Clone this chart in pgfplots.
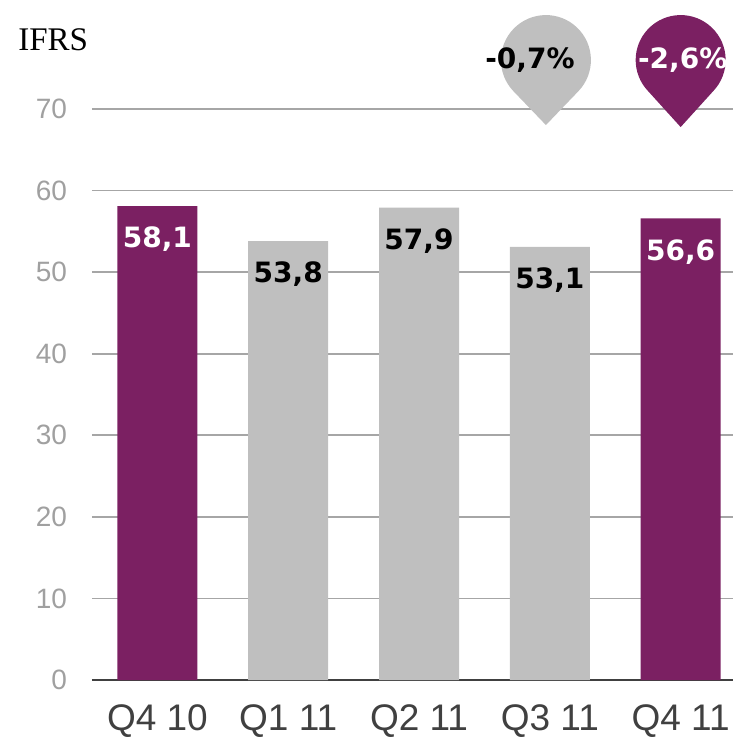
\documentclass[border=0pt]{standalone}
\usepackage{fontspec}
\setmainfont{Liberation Sans}
\newfontfamily\seriffont{Liberation Serif}
\newfontfamily\labfont{DejaVu Sans}
\usepackage{pgfplots}
\pgfplotsset{compat=1.18}
\definecolor{plum}{HTML}{7B2062}
\definecolor{barg}{HTML}{BFBFBF}
\definecolor{gridg}{HTML}{A6A6A6}
\definecolor{tickg}{HTML}{A0A0A0}
\definecolor{labg}{HTML}{404040}

\begin{document}
\begin{tikzpicture}
\path[use as bounding box] (-46pt,-32.5pt) rectangle (320.5pt,340pt);
\begin{axis}[
    scale only axis, width=320.5pt, height=285.5pt,
    xmin=-0.5, xmax=4.4, ymin=0, ymax=70,
    ytick={0,10,...,70}, xtick={0,1,2,3,4},
    xticklabels={Q4 10,Q1 11,Q2 11,Q3 11,Q4 11},
    axis line style={draw=none}, major tick length=0pt,
    ymajorgrids, grid style={gridg, line width=0.8pt},
    extra y ticks={0}, extra y tick labels={},
    extra y tick style={grid style={labg, line width=1.1pt}},
    /pgf/number format/assume math mode=true,
    /pgf/number format/use comma, /pgf/number format/fixed,
    /pgf/number format/fixed zerofill, /pgf/number format/precision=1,
    yticklabel style={font=\fontsize{14}{16}\selectfont, text=tickg, xshift=-9pt,
        /pgf/number format/precision=0, /pgf/number format/fixed zerofill=false},
    xticklabel style={font=\fontsize{18.5}{20}\selectfont, text=labg, yshift=-9pt},
    clip=false,
    nodes near coords,
    every node near coord/.append style={anchor=north, yshift=-7pt,
        font=\labfont\bfseries\fontsize{14}{15}\selectfont},
  ]
  \addplot[ybar, bar width=40pt, bar shift=0pt, fill=plum, draw=none,
      every node near coord/.append style={text=white}]
    coordinates {(0,58.1) (4,56.6)};
  \addplot[ybar, bar width=40pt, bar shift=0pt, fill=barg, draw=none,
      every node near coord/.append style={text=black}]
    coordinates {(1,53.8) (2,57.9) (3,53.1)};

  % change bubbles (teardrops above the last two bars)
  \fill[barg] ([yshift=-32.5pt]axis cs:2.97,76) -- ([shift={(-43.8:22.5pt)}]axis cs:2.97,76)
      arc[start angle=-43.8, end angle=223.8, radius=22.5pt] -- cycle;
  \fill[plum] ([yshift=-33.5pt]axis cs:4,76) -- ([shift={(-43.8:22.5pt)}]axis cs:4,76)
      arc[start angle=-43.8, end angle=223.8, radius=22.5pt] -- cycle;
  \node[font=\labfont\bfseries\fontsize{14}{15}\selectfont, text=black]
      at ([xshift=-8pt]axis cs:2.97,76) {-0,7\%};
  \node[font=\labfont\bfseries\fontsize{14}{15}\selectfont, text=white]
      at ([xshift=1pt]axis cs:4,76) {-2,6\%};
\end{axis}
\node[anchor=west, font=\seriffont\fontsize{16.5}{18}\selectfont, inner sep=0pt]
    at (-37pt,320pt) {IFRS};
\end{tikzpicture}
\end{document}
